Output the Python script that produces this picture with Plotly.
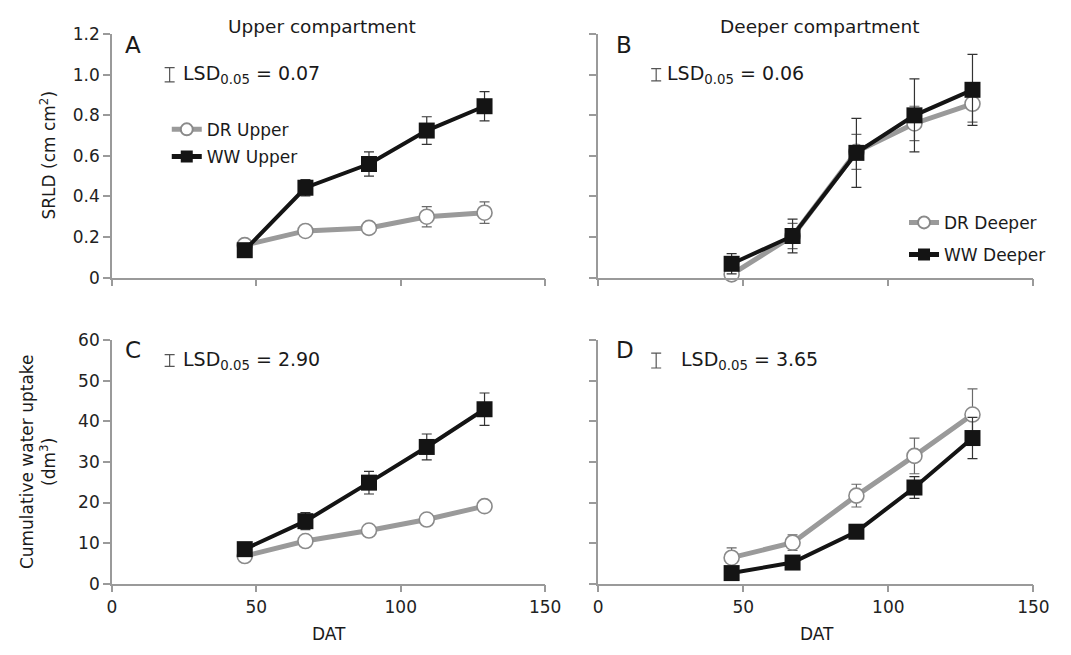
import plotly.graph_objects as go

W, H = 1071, 655
FONT = "DejaVu Sans"

# ---------------- data ----------------
dat = [46, 67, 89, 109, 129]

dr_upper_srld = [0.16, 0.23, 0.245, 0.30, 0.32]
dr_upper_srld_err = [0.02, 0.015, 0.015, 0.05, 0.053]
ww_upper_srld = [0.135, 0.443, 0.56, 0.725, 0.845]
ww_upper_srld_err = [0.02, 0.04, 0.06, 0.068, 0.072]

dr_deeper_srld = [0.016, 0.205, 0.62, 0.76, 0.857]
dr_deeper_srld_err = [0.03, 0.062, 0.086, 0.085, 0.09]
ww_deeper_srld = [0.068, 0.205, 0.615, 0.80, 0.926]
ww_deeper_srld_err = [0.05, 0.083, 0.17, 0.18, 0.175]

dr_upper_uptake = [6.8, 10.5, 13.1, 15.8, 19.1]
dr_upper_uptake_err = [0.5, 0.8, 0.8, 0.9, 1.0]
ww_upper_uptake = [8.5, 15.4, 24.9, 33.7, 43.0]
ww_upper_uptake_err = [1.0, 2.1, 2.8, 3.2, 4.0]

dr_deeper_uptake = [6.4, 10.1, 21.7, 31.5, 41.7]
dr_deeper_uptake_err = [2.4, 1.9, 2.8, 4.4, 6.3]
ww_deeper_uptake = [2.6, 5.2, 12.8, 23.7, 35.9]
ww_deeper_uptake_err = [0.8, 0.8, 0.9, 2.7, 5.1]

lsd_values = [0.07, 0.06, 2.90, 3.65]
lsd_labels = ["0.07", "0.06", "2.90", "3.65"]

x_ticks = [0, 50, 100, 150]
x_ticklabels = ["0", "50", "100", "150"]
srld_ticks = [0, 0.2, 0.4, 0.6, 0.8, 1.0, 1.2]
srld_ticklabels = ["0", "0.2", "0.4", "0.6", "0.8", "1.0", "1.2"]
uptake_ticks = [0, 10, 20, 30, 40, 50, 60]
uptake_ticklabels = ["0", "10", "20", "30", "40", "50", "60"]

# ---------------- helpers ----------------
def px(x):
    return x / W

def py(y):
    return 1 - y / H

DR_LINE = "#9a9a9a"
DR_MARK = "#8a8a8a"
WW = "#141414"
AX = "#9a9a9a"

fig = go.Figure()

panels = [
    ("x", "y", dr_upper_srld, dr_upper_srld_err, ww_upper_srld, ww_upper_srld_err,
     "DR Upper", "WW Upper", "legend"),
    ("x2", "y2", dr_deeper_srld, dr_deeper_srld_err, ww_deeper_srld, ww_deeper_srld_err,
     "DR Deeper", "WW Deeper", "legend2"),
    ("x3", "y3", dr_upper_uptake, dr_upper_uptake_err, ww_upper_uptake, ww_upper_uptake_err,
     "DR Upper", "WW Upper", None),
    ("x4", "y4", dr_deeper_uptake, dr_deeper_uptake_err, ww_deeper_uptake, ww_deeper_uptake_err,
     "DR Deeper", "WW Deeper", None),
]

for xa, ya, dr, dre, ww, wwe, drn, wwn, leg in panels:
    fig.add_trace(go.Scatter(
        x=dat, y=dr, name=drn, xaxis=xa, yaxis=ya, mode="lines+markers",
        line=dict(color=DR_LINE, width=5),
        marker=dict(symbol="circle", size=15, color="white",
                    line=dict(color=DR_MARK, width=1.6)),
        error_y=dict(type="data", array=dre, symmetric=True, color="#6a6a6a",
                     thickness=1.2, width=5),
        cliponaxis=False, showlegend=leg is not None,
        legend=leg if leg else "legend",
        legendgroup=(drn + xa) if leg else None,
    ))
    fig.add_trace(go.Scatter(
        x=dat, y=ww, name=wwn, xaxis=xa, yaxis=ya, mode="lines+markers",
        line=dict(color=WW, width=4),
        marker=dict(symbol="square", size=16, color=WW),
        error_y=dict(type="data", array=wwe, symmetric=True, color="#333333",
                     thickness=1.2, width=5),
        cliponaxis=False, showlegend=leg is not None,
        legend=leg if leg else "legend",
        legendgroup=(wwn + xa) if leg else None,
    ))

# LSD indicator bars (full bar length = LSD value)
lsd_pos = [("x", "y", 20, 1.0), ("x2", "y2", 20, 1.0), ("x3", "y3", 20, 55), ("x4", "y4", 20, 55)]
for (xa, ya, lx, ly), v in zip(lsd_pos, lsd_values):
    fig.add_trace(go.Scatter(
        x=[lx], y=[ly], xaxis=xa, yaxis=ya, mode="markers",
        marker=dict(size=1, color="rgba(0,0,0,0)"),
        error_y=dict(type="data", array=[v / 2], symmetric=True, color="#555555",
                     thickness=1.2, width=5),
        showlegend=False, hoverinfo="skip", cliponaxis=False,
    ))

xdomL = [px(109), px(551)]
xdomR = [px(605), px(1049)]
ydomT = [py(276), py(25)]
ydomB = [py(591.7), py(340.7)]

def xaxis(dom, labels, anchor):
    return dict(domain=dom, range=[0, 150], anchor=anchor, showline=True, linecolor=AX,
                linewidth=1.5, ticks="outside", ticklen=7, tickwidth=1.5, tickcolor=AX,
                tickvals=x_ticks, ticktext=x_ticklabels,
                showticklabels=labels, showgrid=False, zeroline=False,
                tickfont=dict(family=FONT, size=17, color="#222"))

def yaxis(dom, rng, vals, txt, labels, anchor):
    return dict(domain=dom, range=rng, anchor=anchor, showline=True, linecolor=AX,
                linewidth=1.5, ticks="outside", ticklen=7, tickwidth=1.5, tickcolor=AX,
                tickvals=vals, ticktext=txt, showticklabels=labels, showgrid=False,
                zeroline=False, tickfont=dict(family=FONT, size=17, color="#222"))

ann = []
def add_text(x, y, text, size=17, **kw):
    d = dict(x=px(x), y=py(y), xref="paper", yref="paper", text=text, showarrow=False,
             xanchor="center", yanchor="middle",
             font=dict(family=FONT, size=size, color="#1a1a1a"))
    d.update(kw)
    ann.append(d)

add_text(323, 17, "Upper compartment", size=18.5)
add_text(831, 17, "Deeper compartment", size=18.5)
add_text(131, 36, "A", size=23)
add_text(631, 36, "B", size=23)
add_text(131, 351, "C", size=23)
add_text(632, 351, "D", size=23)
add_text(44, 150, "SRLD (cm cm<sup>2</sup>)", textangle=-90)
add_text(33, 466, "Cumulative water uptake<br>(dm<sup>3</sup>)", textangle=-90)
add_text(330, 644, "DAT")
add_text(828, 644, "DAT")

lsd_text_pos = [("x", "y", 24, 1.0), ("x2", "y2", 23, 1.0), ("x3", "y3", 24, 55), ("x4", "y4", 28, 55)]
for (xa, ya, tx, ty), lab in zip(lsd_text_pos, lsd_labels):
    ann.append(dict(x=tx, y=ty, xref=xa, yref=ya, xanchor="left", yanchor="middle",
                    text="LSD<sub>0.05</sub> = " + lab, showarrow=False,
                    font=dict(family=FONT, size=19, color="#1a1a1a")))

fig.update_layout(
    width=W, height=H, margin=dict(l=0, r=0, t=0, b=0),
    paper_bgcolor="white", plot_bgcolor="white",
    xaxis=xaxis(xdomL, False, "y"),
    yaxis=yaxis(ydomT, [0, 1.2], srld_ticks, srld_ticklabels, True, "x"),
    xaxis2=xaxis(xdomR, False, "y2"),
    yaxis2=yaxis(ydomT, [0, 1.2], srld_ticks, srld_ticklabels, False, "x2"),
    xaxis3=xaxis(xdomL, True, "y3"),
    yaxis3=yaxis(ydomB, [0, 60], uptake_ticks, uptake_ticklabels, True, "x3"),
    xaxis4=xaxis(xdomR, True, "y4"),
    yaxis4=yaxis(ydomB, [0, 60], uptake_ticks, uptake_ticklabels, False, "x4"),
    legend=dict(x=px(165), y=py(105), xanchor="left", yanchor="top",
                bgcolor="rgba(0,0,0,0)", itemsizing="constant", tracegroupgap=2,
                font=dict(family=FONT, size=17, color="#1a1a1a")),
    legend2=dict(x=px(917), y=py(201), xanchor="left", yanchor="top",
                 bgcolor="rgba(0,0,0,0)", itemsizing="constant", tracegroupgap=7,
                 font=dict(family=FONT, size=17, color="#1a1a1a")),
    annotations=ann,
    showlegend=True,
)

fig.write_html("out.html")
